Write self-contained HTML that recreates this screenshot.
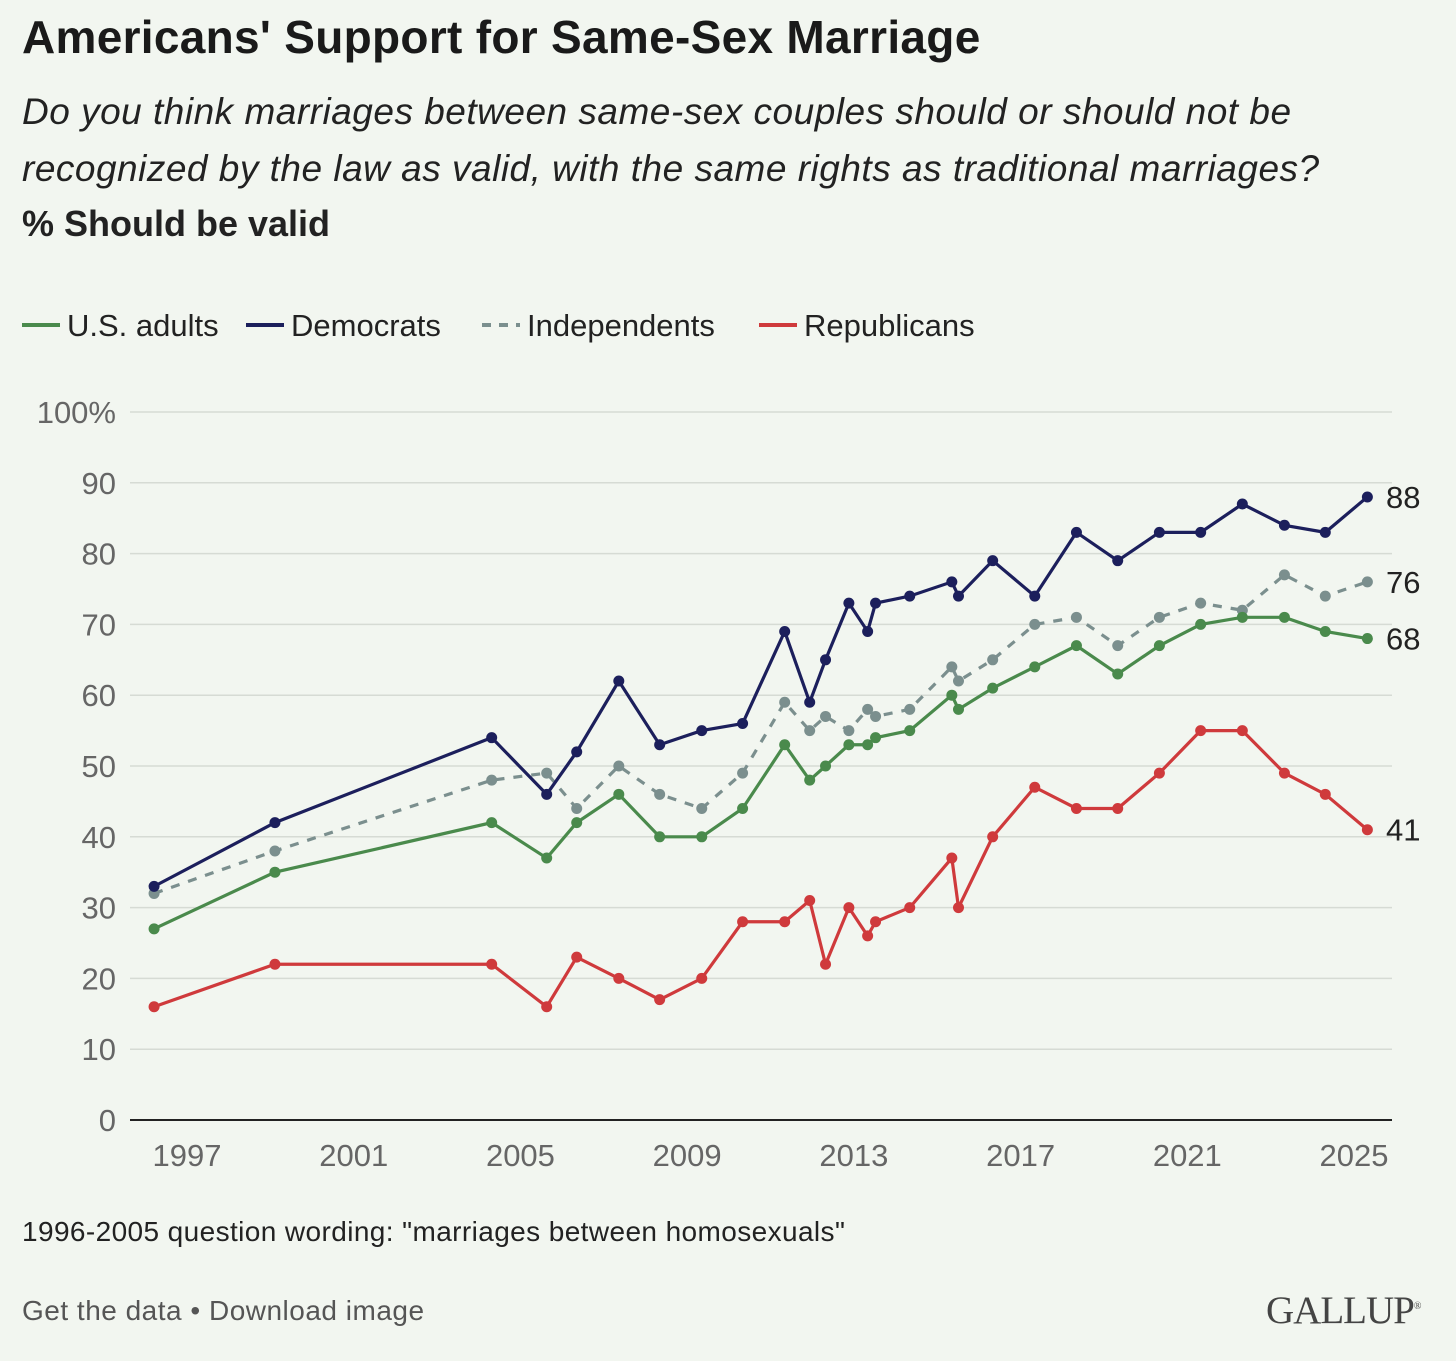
<!DOCTYPE html>
<html><head><meta charset="utf-8"><style>
body{margin:0;background:#f2f6f0;font-family:"Liberation Sans",sans-serif;}
#wrap{position:relative;width:1456px;height:1361px;overflow:hidden;background:#f2f6f0;}
.t{position:absolute;white-space:nowrap;color:#1a1a1a;}
</style></head><body>
<div id="wrap">
<div class="t" style="left:22px;top:10px;font-size:46px;font-weight:bold;letter-spacing:0.3px;">Americans' Support for Same-Sex Marriage</div>
<div class="t" style="left:22px;top:83px;font-size:37px;font-style:italic;line-height:57px;color:#222;letter-spacing:0.5px;">Do you think marriages between same-sex couples should or should not be<br>recognized by the law as valid, with the same rights as traditional marriages?</div>
<div class="t" style="left:22px;top:203px;font-size:36px;font-weight:bold;color:#222;">% Should be valid</div>
<svg width="1456" height="1361" style="position:absolute;left:0;top:0" id="svg"></svg>
<div class="t" style="left:22px;top:1216px;font-size:28px;color:#222;letter-spacing:0.4px;">1996-2005 question wording: "marriages between homosexuals"</div>
<div class="t" style="left:22px;top:1295px;font-size:28px;color:#555;letter-spacing:0.5px;">Get the data • Download image</div>
<div class="t" style="left:1266px;top:1288px;font-size:39px;font-family:'Liberation Serif',serif;color:#444;letter-spacing:-1px;">GALLUP<sup style="font-size:10px">®</sup></div>
</div>
<script>
const years=[1996.21,1999.11,2004.31,2005.63,2006.35,2007.36,2008.34,2009.35,2010.33,2011.34,2011.94,2012.32,2012.88,2013.33,2013.52,2014.34,2015.35,2015.51,2016.33,2017.34,2018.34,2019.33,2020.33,2021.32,2022.32,2023.33,2024.31,2025.32];
const adults=[27,35,42,37,42,46,40,40,44,53,48,50,53,53,54,55,60,58,61,64,67,63,67,70,71,71,69,68];
const democrats=[33,42,54,46,52,62,53,55,56,69,59,65,73,69,73,74,76,74,79,74,83,79,83,83,87,84,83,88];
const independents=[32,38,48,49,44,50,46,44,49,59,55,57,55,58,57,58,64,62,65,70,71,67,71,73,72,77,74,76];
const republicans=[16,22,22,16,23,20,17,20,28,28,31,22,30,26,28,30,37,30,40,47,44,44,49,55,55,49,46,41];
const yTicks=[0,10,20,30,40,50,60,70,80,90,100];
const xTicks=[1997,2001,2005,2009,2013,2017,2021,2025];
const X=y=>187+(y-1997)*41.68;
const Y=v=>1120-v*7.08;
const svg=document.getElementById('svg');
const NS='http://www.w3.org/2000/svg';
function mk(t,a){const e=document.createElementNS(NS,t);for(const k in a)e.setAttribute(k,a[k]);svg.appendChild(e);return e;}
yTicks.forEach(v=>{
 const l=mk('line',{x1:130,x2:1392,y1:Y(v),y2:Y(v),stroke:v===0?'#222':'#d6dbd4','stroke-width':v===0?2:1.5});
 
 
 const t=mk('text',{x:116,y:Y(v)+11,'text-anchor':'end','font-size':31,fill:'#666','font-family':'Liberation Sans'});
 t.textContent=v===100?'100%':v;
 
 
});
xTicks.forEach(yr=>{
 const t=mk('text',{x:X(yr),y:1166,'text-anchor':'middle','font-size':31,fill:'#666','font-family':'Liberation Sans'});
 t.textContent=yr;
 
 
});
const series=[
 {name:'independents',vals:independents,c:'#7b8f8e',dash:'9 9'},
 {name:'republicans',vals:republicans,c:'#cf3a3c'},
 {name:'adults',vals:adults,c:'#4a8a4c'},
 {name:'democrats',vals:democrats,c:'#1c1f5c'}];
series.forEach(s=>{
 const p=mk('polyline',{points:s.vals.map((v,i)=>X(years[i])+','+Y(v)).join(' '),fill:'none',stroke:s.c,'stroke-width':3.2,'stroke-dasharray':s.dash||'none'});
 
 
 s.vals.forEach((v,i)=>{
  const c=mk('circle',{cx:X(years[i]),cy:Y(v),r:5.5,fill:s.c});
  
  
 });
 const last=s.vals[s.vals.length-1];
 const t=mk('text',{x:1386,y:Y(last)+11,'font-size':31,fill:'#222','font-family':'Liberation Sans'});
 t.textContent=last;
 
 
});
const legend=[['U.S. adults','#4a8a4c',null,22],['Democrats','#1c1f5c',null,246],['Independents','#7b8f8e','9 8',482],['Republicans','#cf3a3c',null,759]];
legend.forEach(l=>{
 const ln=mk('line',{x1:l[3],x2:l[3]+38,y1:325,y2:325,stroke:l[1],'stroke-width':4,'stroke-dasharray':l[2]||'none'});
 
 
 const t=mk('text',{x:l[3]+45,y:336,'font-size':31,fill:'#222','font-family':'Liberation Sans'});
 t.textContent=l[0];
 
 
});
</script>
</body></html>
